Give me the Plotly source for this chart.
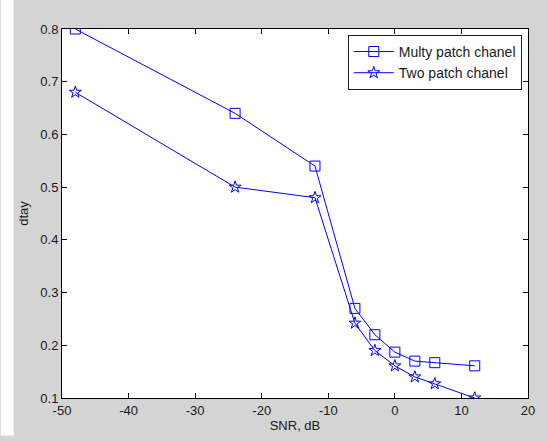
import plotly.graph_objects as go

snr = [-48, -24, -12, -6, -3, 0, 3, 6, 12]
multy = [0.80, 0.64, 0.54, 0.27, 0.22, 0.187, 0.17, 0.167, 0.161]
two = [0.68, 0.50, 0.48, 0.242, 0.19, 0.161, 0.14, 0.127, 0.10]
xticks = [-50, -40, -30, -20, -10, 0, 10, 20]
yticks = [0.1, 0.2, 0.3, 0.4, 0.5, 0.6, 0.7, 0.8]

blue = "#0000ff"
fig = go.Figure()
fig.add_trace(go.Scatter(x=snr, y=multy, mode="lines+markers", name="Multy patch chanel",
                         legendgroup="a",
                         line=dict(color=blue, width=1),
                         marker=dict(symbol="square-open", size=10, color=blue, line=dict(width=1, color=blue))))
fig.add_trace(go.Scatter(x=snr, y=two, mode="lines+markers", name="Two patch chanel",
                         legendgroup="b",
                         line=dict(color=blue, width=1),
                         marker=dict(symbol="star-open", size=9, color=blue, line=dict(width=1, color=blue))))

W, H = 547, 441
L, R, T, B = 62, 13, 29, 38
pw, ph = W - L - R, H - T - B

axis_common = dict(showgrid=False, zeroline=False, ticks="inside", ticklen=5, tickwidth=1,
                   tickcolor="#000000", showline=True, linecolor="#000000", linewidth=1,
                   mirror="ticks", tickfont=dict(family="Liberation Sans, Arial", size=13, color="#1a1a1a"))

fig.update_layout(
    width=W, height=H,
    margin=dict(l=L, r=R, t=T, b=B, pad=0),
    paper_bgcolor="#d4d4d4",
    plot_bgcolor="#ffffff",
    font=dict(family="Liberation Sans, Arial", size=13, color="#1a1a1a"),
    xaxis=dict(range=[-50, 20], tickvals=xticks, ticktext=[str(v) for v in xticks],
               title=dict(text="SNR, dB", standoff=2, font=dict(size=13)), **axis_common),
    yaxis=dict(range=[0.1, 0.8], tickvals=yticks, ticktext=[f"{v:.1f}" for v in yticks],
               title=dict(text="dtay", standoff=8, font=dict(size=13)), **axis_common),
    legend=dict(x=(527.7 - L) / pw, xanchor="right", y=1 - (35 - T) / ph, yanchor="top",
                bgcolor="#ffffff", bordercolor="#202020", borderwidth=1,
                font=dict(family="Liberation Sans, Arial", size=14, color="#1a1a1a"),
                tracegroupgap=0, itemwidth=40),
    shapes=[
        dict(type="rect", xref="paper", yref="paper", x0=-L / pw, x1=(13 - L) / pw,
             y0=-B / ph, y1=(H - T) / ph, fillcolor="#ffffff", line=dict(width=0), layer="below"),
        dict(type="rect", xref="paper", yref="paper", x0=-L / pw, x1=(W - L) / pw,
             y0=(H - T - 5) / ph, y1=(H - T) / ph, fillcolor="#ffffff", line=dict(width=0), layer="below"),
    ],
)
fig.write_html("out.html", config={"displayModeBar": False},
               post_script="document.body.style.margin='0';document.body.style.overflow='hidden';")
